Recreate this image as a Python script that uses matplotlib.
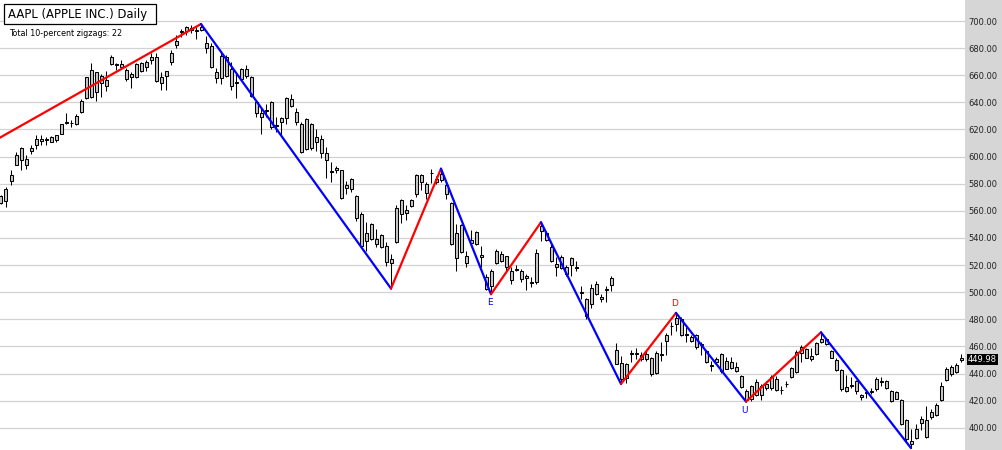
import numpy as np
import matplotlib
matplotlib.use('Agg')
import matplotlib.pyplot as plt
from matplotlib.patches import Rectangle
from matplotlib.transforms import blended_transform_factory

# AAPL daily bars, first one (index -1) is cut off at the left edge
opens = [566, 566.9, 582, 593.6, 606.7, 598.5, 604, 608.4, 613.3, 612.3,
         610.9, 612.3, 616.8, 624.7, 625.1, 624, 633.1, 643, 664, 647.4,
         659.5, 652.3, 668.6, 668.4, 666.4, 664, 658.5, 659, 663.2, 666.4,
         670.9, 673.6, 654, 659.8, 670.1, 682.5, 691.9, 692.3, 694.8, 693.1,
         693.1, 683.7, 681.7, 662.2, 657.8, 673.8, 664.7, 655.1, 657.3, 664.7,
         658.8, 640, 632.3, 633.5, 640, 623.5, 625.7, 628.6, 642.2, 633.1,
         624.4, 605.9, 624.4, 610.4, 613.3, 603, 589.4, 589.9, 589.9, 576.8,
         576.3, 570.6, 557.3, 537.5, 539.3, 539.3, 533.1, 533.8, 524.4, 536.8,
         557.3, 560.7, 563.2, 572.6, 586.2, 579.5, 587.6, 583.7, 582.5, 578.8,
         565.7, 543.7, 529.4, 526.9, 536, 535.6, 527.7, 511.4, 504.7, 521.2,
         528.1, 526.4, 515.8, 516.7, 515.8, 510.4, 507.5, 507.2, 544.9, 543.5,
         533.6, 518.3, 517.8, 518.8, 520, 518.6, 500.1, 494.8, 491.6, 499,
         496.5, 501.9, 505.4, 457, 447.9, 436.8, 454.3, 454.9, 450.4, 454.6,
         451.4, 440.5, 453.5, 463.7, 474.8, 476.8, 480.5, 468.9, 466.9, 468.6,
         462, 456.3, 446.2, 448.4, 454.6, 443.5, 448.4, 444.7, 438, 427.4,
         421.2, 424.2, 430.6, 429.1, 429.1, 435.6, 428.2, 432, 437.3, 441,
         455.3, 457.8, 450.4, 454.1, 463.5, 465.4, 456.5, 449.9, 442.5, 426.9,
         431.1, 434.3, 424.4, 425.6, 426.6, 428.4, 434.6, 434.3, 426.9, 421.5,
         420.2, 405.4, 388.1, 392.3, 403.7, 405.4, 407.9, 409.1, 420.2, 435.1,
         444.9, 441.2, 451.4]
highs = [572, 577.5, 590.4, 603.5, 607.4, 601, 608.4, 615.8, 615.8, 614.6,
         615.3, 616, 624.4, 631.9, 626.9, 631.1, 642.5, 658.5, 668.9, 662.2,
         660.7, 663.2, 674.6, 669.4, 671.4, 665.2, 662.2, 668.9, 669.6, 671.4,
         676.3, 676.3, 662.7, 663.2, 678.8, 689.9, 694, 696, 697.3, 695.3,
         697.8, 688.6, 683.7, 665.7, 676.3, 674.6, 670.1, 661.5, 665.7, 667.7,
         659.5, 641.7, 635.6, 638.5, 641, 629.4, 629.4, 644.2, 645.9, 635.6,
         625.2, 628.6, 624.9, 620, 615.8, 607.2, 596, 592.8, 590.4, 581.7,
         584.4, 571.4, 559, 551.6, 550.9, 546.7, 543, 536.8, 528.1, 564,
         568.9, 564, 568.9, 586.9, 587.4, 581.2, 590.5, 585.4, 591.1, 581.2,
         566.4, 550.4, 550.4, 530.1, 545.9, 545.4, 534.3, 513.3, 517, 531.9,
         530.6, 526.9, 518.8, 520.2, 517, 513.3, 510.9, 531.9, 551.6, 544.9,
         535.6, 525.7, 527.7, 520.2, 525.7, 522.7, 504.7, 496, 506.4, 507.9,
         499, 504.7, 512.1, 462.7, 452.8, 447.9, 457, 459, 456, 457,
         452.1, 456.3, 463.2, 470.1, 478, 484.7, 481.7, 474.3, 468.6, 469.4,
         463.2, 457, 448.9, 452.1, 455.3, 452.1, 452.1, 448.4, 439, 428.6,
         431.6, 435.6, 432.3, 434.8, 439, 438.5, 431.1, 434.8, 444.7, 457,
         460.7, 459, 458.5, 463, 470.4, 466.4, 457.3, 451.1, 443.7, 438.8,
         437.5, 435.1, 425.2, 427.7, 429.4, 437.5, 437.5, 435.1, 427.7, 426.9,
         421, 406.2, 399.3, 403, 408.4, 416, 413.6, 418.5, 433.8, 444.9,
         446.2, 448.1, 454.1]
lows = [565, 562.7, 579.3, 593.6, 589.9, 590.6, 602.2, 605.9, 608.4, 608.4,
        610.4, 611, 616.8, 623.7, 621.5, 623.2, 631.9, 642.5, 643, 641,
        644.2, 648.4, 667.7, 663.7, 664.7, 656, 650.4, 657.8, 662.7, 663.2,
        668.6, 655.3, 649.1, 649.1, 667.7, 680, 688, 689.4, 691.1, 686.7,
        692.3, 676.3, 665.7, 654.1, 653.3, 659, 649.1, 643.5, 656.5, 657.8,
        644.2, 629.4, 617, 629.4, 620.7, 618.3, 615.8, 624.4, 636.8, 623.2,
        603, 604.7, 604.7, 604, 599, 584.4, 581.2, 587.9, 568.9, 572.6,
        573.8, 552.8, 533.1, 530.1, 538.5, 533.1, 532.3, 519, 502.7, 536,
        550.9, 553.3, 562.7, 570.1, 575.1, 568.4, 580.5, 579.5, 581.2, 568.4,
        535.1, 515.3, 528.6, 518.3, 534.3, 535.1, 518.3, 501.5, 498.5, 520.7,
        522, 515.8, 506.4, 515.3, 507.2, 501.5, 504, 505.9, 538, 537.5,
        522, 512.1, 517, 512.1, 512.1, 515.3, 494.8, 480, 488.6, 498,
        493.1, 493.1, 501, 446.7, 432.3, 433.1, 448.4, 451, 449.1, 449.6,
        438.5, 439.8, 449.6, 453.8, 468.1, 471.1, 467.7, 463.2, 463.2, 458.3,
        453.8, 447.7, 442.2, 447.2, 440.5, 443, 443, 441, 429.1, 419.3,
        420, 423.7, 420.7, 428.1, 428.1, 427.4, 424.9, 429.9, 436.5, 440.5,
        448.6, 451.1, 449.1, 453.6, 462.2, 461, 451.1, 441.7, 426.9, 426.4,
        429.4, 425.2, 420.2, 422, 425.2, 426.9, 430.9, 428.9, 419, 421,
        402.2, 389.9, 385, 391.4, 398, 392.3, 406.7, 408.6, 419.5, 434.3,
        438.3, 440.5, 448.6]
closes = [571, 576.3, 586.2, 601.5, 597.8, 594.1, 606.7, 613.3, 611.6, 612.8,
          614.3, 615.6, 624, 625.4, 624.5, 629.9, 641.2, 658.5, 644.2, 662.2,
          654, 656.5, 673.6, 667.8, 668.4, 657, 661, 668.1, 668.9, 670.1,
          673.8, 655.8, 658.8, 663.2, 676.3, 684.9, 692.8, 695.3, 693.6, 692.6,
          695.6, 680, 666.4, 658.3, 674.3, 659.8, 652.3, 654.5, 664.7, 659.8,
          644.9, 631.9, 629.4, 634.1, 621.5, 622.9, 628.1, 643, 637.5, 625.7,
          603.5, 627.4, 606.4, 614.6, 603, 597.8, 588.8, 591.9, 569.6, 578.8,
          583.7, 554.8, 534.3, 543.5, 550.4, 535.6, 542.5, 522, 521.2, 562.2,
          568.1, 558.3, 568.1, 586.2, 581.2, 573.1, 588.2, 581.2, 587.4, 572.1,
          535.6, 525.2, 549.9, 521.2, 538.5, 544.7, 525.7, 502.2, 515.8, 530.6,
          522.7, 518.8, 508.9, 517.3, 509.6, 512.1, 506.9, 528.9, 549.1, 538.5,
          523.2, 520.7, 526.2, 513.3, 524.9, 518, 499.5, 482.5, 503, 506.4,
          494.8, 502.5, 510.4, 447.2, 436.3, 446.7, 454.9, 454.3, 453.6, 450.9,
          439.8, 455.3, 454.1, 468.1, 475.4, 481, 468.1, 468.3, 464, 459.5,
          460.7, 448.4, 445.6, 450.9, 441.5, 448.9, 444, 441.5, 429.9, 420.7,
          430.6, 434.1, 424.2, 432.3, 437.3, 428.1, 427.6, 432.6, 444, 455.8,
          459.5, 451.6, 452.8, 462.2, 465.4, 461.5, 451.6, 442.5, 428.4, 430.1,
          431.7, 426.9, 422.7, 426.2, 427.2, 435.8, 434, 429.4, 419.5, 426.4,
          403, 391.4, 390.6, 398.8, 406.2, 393.1, 411.6, 417, 430.9, 443.2,
          439.3, 446.2, 449.98]

# 10-percent zigzag turning points (bar index, price); first one is off screen
zz_idx = [-6, 39, 77, 87, 97, 107, 123, 134, 148, 163, 181]
zz_val = [604.0, 697.8, 502.7, 591.1, 498.5, 551.6, 432.3, 484.7, 419.3, 470.4, 385.0]
zz_labels = {97: 'E', 134: 'D', 148: 'U'}

title = 'AAPL (APPLE INC.) Daily'
subtitle = 'Total 10-percent zigzags: 22'

assert len(opens) == len(highs) == len(lows) == len(closes) == 193
idx = np.arange(-1, 192)
o, h, l, c = (np.array(a, dtype=float) for a in (opens, highs, lows, closes))

W, H = 1003, 450
panel_x = 965  # where the gray price panel starts

fig = plt.figure(figsize=(W / 100, H / 100), dpi=100)
ax = fig.add_axes([0, 0, panel_x / W, 1])
fig.patches.append(Rectangle((panel_x / W, 0), 1 - panel_x / W, 1, transform=fig.transFigure,
                             facecolor='#d6d6d6', edgecolor='none', zorder=-1))

# candles
ax.vlines(idx, l, h, color='black', lw=0.75, zorder=2)
ax.bar(idx, np.abs(c - o), bottom=np.minimum(o, c), width=0.6,
       color='#c8c8c8', edgecolor='black', linewidth=0.75, zorder=3)

# zigzag: red going up, blue going down
for i in range(len(zz_idx) - 1):
    col = 'red' if zz_val[i + 1] > zz_val[i] else 'blue'
    ax.plot(zz_idx[i:i + 2], zz_val[i:i + 2], color=col, lw=1.6, zorder=4,
            solid_capstyle='round')

for k, txt in zz_labels.items():
    j = zz_idx.index(k)
    is_low = zz_val[j] < zz_val[j - 1]
    ax.annotate(txt, (k, zz_val[j]), xytext=(-1, -11 if is_low else 7),
                textcoords='offset pixels', ha='center', va='baseline',
                color='blue' if is_low else 'red', fontsize=6.5, zorder=5)

ax.set_xlim(-1.2, 191.8)
ax.set_ylim(383.6, 715.5)
ax.set_yticks(np.arange(400, 701, 20))
ax.yaxis.set_major_formatter(plt.FuncFormatter(lambda v, p: f'{v:.2f}'))
ax.yaxis.tick_right()
ax.tick_params(axis='y', length=0, pad=2.5, labelsize=6, labelcolor='#222222')
ax.set_xticks([])
ax.grid(axis='y', color='#d2d2d2', lw=0.9, zorder=0)
ax.set_axisbelow(True)
for s in ax.spines.values():
    s.set_visible(False)

# last price tag
tr = blended_transform_factory(ax.transAxes, ax.transData)
ax.text(1 + 3 / panel_x, c[-1], f'{c[-1]:.2f}', transform=tr, color='white', fontsize=6,
        ha='left', va='center', zorder=6,
        bbox=dict(boxstyle='square,pad=0.12', fc='black', ec='none'))

# title box
fig.patches.append(Rectangle((4 / W, 1 - 23.5 / H), 152 / W, 19.5 / H, transform=fig.transFigure,
                             facecolor='white', edgecolor='black', lw=0.9, zorder=5))
fig.text(8.3 / W, 1 - 18.3 / H, title, fontsize=8.4, ha='left', va='baseline', zorder=6)
fig.text(9 / W, 1 - 35.5 / H, subtitle, fontsize=5.8, ha='left', va='baseline', zorder=6)

fig.savefig('out.png', dpi=100, facecolor='white')
